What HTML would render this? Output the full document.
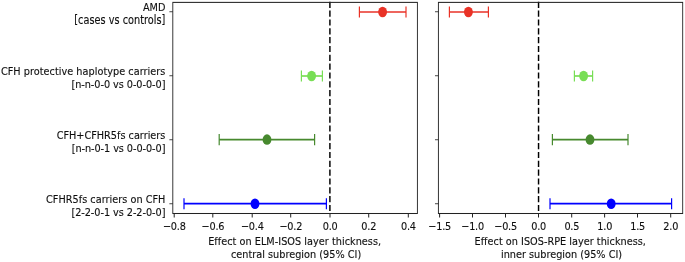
<!DOCTYPE html>
<html><head><meta charset="utf-8"><title>Forest plot</title>
<style>
html,body{margin:0;padding:0;background:#fff;}
svg{display:block;}
text{font-family:"DejaVu Sans","Liberation Sans",sans-serif;font-size:9.72px;fill:#111;stroke:#111;stroke-width:0.12px;}
</style></head><body>
<svg width="685" height="262" viewBox="0 0 685 262">
<rect width="685" height="262" fill="#fff"/>
<defs><filter id="soft" x="-2%" y="-2%" width="104%" height="104%"><feGaussianBlur stdDeviation="0.36"/></filter></defs>
<g filter="url(#soft)"><g transform="scale(1,1.142857)">

<line x1="329.9" y1="1.54" x2="329.9" y2="186.812" stroke="#000" stroke-width="1.458" stroke-dasharray="5.395 2.333"/>
<g stroke="#e93226" fill="#e93226">
<line x1="359.4" y1="10.5" x2="406.0" y2="10.5" stroke-width="1.458"/>
<line x1="359.4" y1="5.639" x2="359.4" y2="15.361" stroke-width="1.2"/>
<line x1="406.0" y1="5.639" x2="406.0" y2="15.361" stroke-width="1.2"/>
<ellipse cx="382.6" cy="10.5" rx="4.425" ry="4.594" stroke="none"/>
</g>
<g stroke="#78de54" fill="#78de54">
<line x1="301.4" y1="66.5" x2="322.4" y2="66.5" stroke-width="1.458"/>
<line x1="301.4" y1="61.639" x2="301.4" y2="71.361" stroke-width="1.2"/>
<line x1="322.4" y1="61.639" x2="322.4" y2="71.361" stroke-width="1.2"/>
<ellipse cx="311.6" cy="66.5" rx="4.425" ry="4.594" stroke="none"/>
</g>
<g stroke="#46892f" fill="#46892f">
<line x1="219.2" y1="122.15" x2="314.6" y2="122.15" stroke-width="1.458"/>
<line x1="219.2" y1="117.289" x2="219.2" y2="127.011" stroke-width="1.2"/>
<line x1="314.6" y1="117.289" x2="314.6" y2="127.011" stroke-width="1.2"/>
<ellipse cx="267.0" cy="122.15" rx="4.425" ry="4.594" stroke="none"/>
</g>
<g stroke="#0000ff" fill="#0000ff">
<line x1="184.0" y1="178.238" x2="326.4" y2="178.238" stroke-width="1.458"/>
<line x1="184.0" y1="173.377" x2="184.0" y2="183.099" stroke-width="1.2"/>
<line x1="326.4" y1="173.377" x2="326.4" y2="183.099" stroke-width="1.2"/>
<ellipse cx="255.0" cy="178.238" rx="4.425" ry="4.594" stroke="none"/>
</g>
<rect x="172.8" y="2.1" width="244.6" height="184.712" fill="none" stroke="#222" stroke-width="0.9"/>
<line x1="169.397" y1="10.281" x2="172.8" y2="10.281" stroke="#222" stroke-width="0.8"/>
<line x1="169.397" y1="66.281" x2="172.8" y2="66.281" stroke="#222" stroke-width="0.8"/>
<line x1="169.397" y1="122.281" x2="172.8" y2="122.281" stroke="#222" stroke-width="0.8"/>
<line x1="169.397" y1="178.281" x2="172.8" y2="178.281" stroke="#222" stroke-width="0.8"/>
<line x1="174.2" y1="186.812" x2="174.2" y2="190.215" stroke="#222" stroke-width="1.0"/>
<text x="174.3" y="200.988" text-anchor="middle" letter-spacing="-0.2">−0.8</text>
<line x1="212.8" y1="186.812" x2="212.8" y2="190.215" stroke="#222" stroke-width="1.0"/>
<text x="212.9" y="200.988" text-anchor="middle" letter-spacing="-0.2">−0.6</text>
<line x1="252.2" y1="186.812" x2="252.2" y2="190.215" stroke="#222" stroke-width="1.0"/>
<text x="252.3" y="200.988" text-anchor="middle" letter-spacing="-0.2">−0.4</text>
<line x1="290.7" y1="186.812" x2="290.7" y2="190.215" stroke="#222" stroke-width="1.0"/>
<text x="290.8" y="200.988" text-anchor="middle" letter-spacing="-0.2">−0.2</text>
<line x1="330.0" y1="186.812" x2="330.0" y2="190.215" stroke="#222" stroke-width="1.0"/>
<text x="330.1" y="200.988" text-anchor="middle" letter-spacing="-0.2">0.0</text>
<line x1="368.7" y1="186.812" x2="368.7" y2="190.215" stroke="#222" stroke-width="1.0"/>
<text x="368.8" y="200.988" text-anchor="middle" letter-spacing="-0.2">0.2</text>
<line x1="408.3" y1="186.812" x2="408.3" y2="190.215" stroke="#222" stroke-width="1.0"/>
<text x="408.4" y="200.988" text-anchor="middle" letter-spacing="-0.2">0.4</text>
<text x="294.65" y="214.375" text-anchor="middle" letter-spacing="0.026">Effect on ELM-ISOS layer thickness,</text>
<text x="296.1" y="225.925" text-anchor="middle" letter-spacing="0.015">central subregion (95% CI)</text>
<line x1="538.55" y1="1.54" x2="538.55" y2="186.812" stroke="#000" stroke-width="1.458" stroke-dasharray="5.395 2.333"/>
<g stroke="#e93226" fill="#e93226">
<line x1="449.4" y1="10.5" x2="488.4" y2="10.5" stroke-width="1.458"/>
<line x1="449.4" y1="5.639" x2="449.4" y2="15.361" stroke-width="1.2"/>
<line x1="488.4" y1="5.639" x2="488.4" y2="15.361" stroke-width="1.2"/>
<ellipse cx="468.4" cy="10.5" rx="4.425" ry="4.594" stroke="none"/>
</g>
<g stroke="#78de54" fill="#78de54">
<line x1="574.4" y1="66.5" x2="592.6" y2="66.5" stroke-width="1.458"/>
<line x1="574.4" y1="61.639" x2="574.4" y2="71.361" stroke-width="1.2"/>
<line x1="592.6" y1="61.639" x2="592.6" y2="71.361" stroke-width="1.2"/>
<ellipse cx="583.6" cy="66.5" rx="4.425" ry="4.594" stroke="none"/>
</g>
<g stroke="#46892f" fill="#46892f">
<line x1="552.4" y1="122.15" x2="628.0" y2="122.15" stroke-width="1.458"/>
<line x1="552.4" y1="117.289" x2="552.4" y2="127.011" stroke-width="1.2"/>
<line x1="628.0" y1="117.289" x2="628.0" y2="127.011" stroke-width="1.2"/>
<ellipse cx="590.0" cy="122.15" rx="4.425" ry="4.594" stroke="none"/>
</g>
<g stroke="#0000ff" fill="#0000ff">
<line x1="550.0" y1="178.238" x2="671.6" y2="178.238" stroke-width="1.458"/>
<line x1="550.0" y1="173.377" x2="550.0" y2="183.099" stroke-width="1.2"/>
<line x1="671.6" y1="173.377" x2="671.6" y2="183.099" stroke-width="1.2"/>
<ellipse cx="611.2" cy="178.238" rx="4.425" ry="4.594" stroke="none"/>
</g>
<rect x="438.4" y="2.1" width="244.3" height="184.712" fill="none" stroke="#222" stroke-width="0.9"/>
<line x1="434.997" y1="10.281" x2="438.4" y2="10.281" stroke="#222" stroke-width="0.8"/>
<line x1="434.997" y1="66.281" x2="438.4" y2="66.281" stroke="#222" stroke-width="0.8"/>
<line x1="434.997" y1="122.281" x2="438.4" y2="122.281" stroke="#222" stroke-width="0.8"/>
<line x1="434.997" y1="178.281" x2="438.4" y2="178.281" stroke="#222" stroke-width="0.8"/>
<line x1="439.6" y1="186.812" x2="439.6" y2="190.215" stroke="#222" stroke-width="1.0"/>
<text x="439.7" y="200.988" text-anchor="middle" letter-spacing="-0.2">−1.5</text>
<line x1="472.5" y1="186.812" x2="472.5" y2="190.215" stroke="#222" stroke-width="1.0"/>
<text x="472.6" y="200.988" text-anchor="middle" letter-spacing="-0.2">−1.0</text>
<line x1="505.5" y1="186.812" x2="505.5" y2="190.215" stroke="#222" stroke-width="1.0"/>
<text x="505.6" y="200.988" text-anchor="middle" letter-spacing="-0.2">−0.5</text>
<line x1="538.5" y1="186.812" x2="538.5" y2="190.215" stroke="#222" stroke-width="1.0"/>
<text x="538.6" y="200.988" text-anchor="middle" letter-spacing="-0.2">0.0</text>
<line x1="571.7" y1="186.812" x2="571.7" y2="190.215" stroke="#222" stroke-width="1.0"/>
<text x="571.8" y="200.988" text-anchor="middle" letter-spacing="-0.2">0.5</text>
<line x1="604.6" y1="186.812" x2="604.6" y2="190.215" stroke="#222" stroke-width="1.0"/>
<text x="604.7" y="200.988" text-anchor="middle" letter-spacing="-0.2">1.0</text>
<line x1="637.5" y1="186.812" x2="637.5" y2="190.215" stroke="#222" stroke-width="1.0"/>
<text x="637.6" y="200.988" text-anchor="middle" letter-spacing="-0.2">1.5</text>
<line x1="670.7" y1="186.812" x2="670.7" y2="190.215" stroke="#222" stroke-width="1.0"/>
<text x="670.8" y="200.988" text-anchor="middle" letter-spacing="-0.2">2.0</text>
<text x="560.25" y="214.375" text-anchor="middle" letter-spacing="0.017">Effect on ISOS-RPE layer thickness,</text>
<text x="561.55" y="225.925" text-anchor="middle">inner subregion (95% CI)</text>
<text x="165.4" y="9.406" text-anchor="end">AMD</text>
<text transform="translate(165.4,20.738) scale(1,1.1)" text-anchor="end" letter-spacing="0.025">[cases vs controls]</text>
<text x="165.4" y="65.406" text-anchor="end" letter-spacing="0.03">CFH protective haplotype carriers</text>
<text x="165.4" y="77.0" text-anchor="end" letter-spacing="-0.05">[n-n-0-0 vs 0-0-0-0]</text>
<text x="165.4" y="121.406" text-anchor="end">CFH+CFHR5fs carriers</text>
<text x="165.4" y="133.0" text-anchor="end" letter-spacing="-0.06">[n-n-0-1 vs 0-0-0-0]</text>
<text x="165.4" y="177.406" text-anchor="end" letter-spacing="0.02">CFHR5fs carriers on CFH</text>
<text x="165.4" y="189.0" text-anchor="end" letter-spacing="-0.05">[2-2-0-1 vs 2-2-0-0]</text>
</g></g></svg></body></html>
